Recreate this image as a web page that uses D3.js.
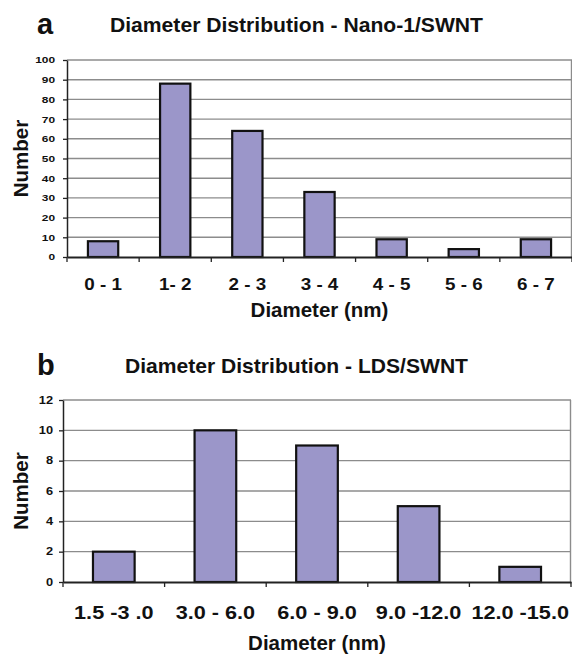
<!DOCTYPE html>
<html>
<head>
<meta charset="utf-8">
<script src="https://cdn.jsdelivr.net/npm/d3@7"></script>
<style>
  body { margin: 0; background: #fff; }
  text { font-family: "Liberation Sans", Arial, sans-serif; font-weight: bold; fill: #111; }
</style>
</head>
<body>
<script>
// dati
const catsA = ['0 - 1', '1- 2', '2 - 3', '3 - 4', '4 - 5', '5 - 6', '6 - 7'];
const valsA = [8, 88, 64, 33, 9, 4, 9];
const ticksA = [0, 10, 20, 30, 40, 50, 60, 70, 80, 90, 100];

const catsB = ['1.5 -3 .0', '3.0 - 6.0', '6.0 - 9.0', '9.0 -12.0', '12.0 -15.0'];
const valsB = [2, 10, 9, 5, 1];
const ticksB = [0, 2, 4, 6, 8, 10, 12];

const W = 572, H = 654;
const barColor = '#9b96c9';
const gridColor = '#8c8c8c';

const svg = d3.select('body')
    .append('svg')
    .attr('width', W)
    .attr('height', H);

// allarga il testo come nell'originale
function stretch(sel, k) {
    sel.each(function() {
        const w = this.getComputedTextLength();
        d3.select(this).attr('textLength', w * k).attr('lengthAdjust', 'spacingAndGlyphs');
    });
}

function drawChart(o) {
    const g = svg.append('g');

    const x = d3.scaleBand()
        .domain(o.cats)
        .range([o.left, o.right]);

    const y = d3.scaleLinear()
        .domain([0, d3.max(o.ticks)])
        .range([o.bottom, o.top]);

    // griglia
    g.selectAll('.grid')
        .data(o.ticks.filter(t => t > 0))
        .enter().append('line')
        .attr('x1', o.left).attr('x2', o.right)
        .attr('y1', d => y(d)).attr('y2', d => y(d))
        .attr('stroke', gridColor)
        .attr('stroke-width', 1.4);

    g.append('line')
        .attr('x1', o.right - 0.5).attr('x2', o.right - 0.5)
        .attr('y1', o.top).attr('y2', o.bottom)
        .attr('stroke', gridColor)
        .attr('stroke-width', 1.4);

    // barre
    const bw = x.bandwidth() * o.barFrac;
    g.selectAll('.bar')
        .data(o.vals)
        .enter().append('rect')
        .attr('x', (d, i) => x(o.cats[i]) + (x.bandwidth() - bw) / 2)
        .attr('y', d => y(d))
        .attr('width', bw)
        .attr('height', d => y(0) - y(d))
        .attr('fill', barColor)
        .attr('stroke', '#111')
        .attr('stroke-width', 2.2);

    // asse y
    const yAxis = g.append('g')
        .attr('transform', 'translate(' + o.left + ',0)')
        .call(d3.axisLeft(y).tickValues(o.ticks).tickSize(4).tickSizeOuter(0).tickPadding(o.yPad));
    yAxis.select('.domain').attr('stroke', '#222').attr('stroke-width', 1.5);
    yAxis.selectAll('.tick line').attr('stroke', '#222').attr('stroke-width', 1.3);
    yAxis.selectAll('text')
        .attr('font-size', o.yFont)
        .attr('fill', '#111')
        .call(stretch, 1.28);

    // asse x
    const xAxis = g.append('g')
        .attr('transform', 'translate(0,' + o.bottom + ')')
        .call(d3.axisBottom(x).tickSize(0).tickSizeOuter(0).tickPadding(o.xPad));
    xAxis.select('.domain').attr('stroke', '#222').attr('stroke-width', 1.8);
    xAxis.selectAll('text')
        .attr('font-size', o.xFont)
        .attr('fill', '#111')
        .call(stretch, 1.14);

    // tacche ai bordi delle categorie
    const edges = o.cats.map(c => x(c)).concat([o.right]);
    g.selectAll('.edge')
        .data(edges)
        .enter().append('line')
        .attr('x1', d => d).attr('x2', d => d)
        .attr('y1', o.bottom).attr('y2', o.bottom + 5)
        .attr('stroke', '#222')
        .attr('stroke-width', 1.3);

    // titoli
    g.append('text')
        .attr('x', 37).attr('y', o.letterY)
        .attr('font-size', 29)
        .text(o.letter);

    g.append('text')
        .attr('x', 296.5).attr('y', o.titleY)
        .attr('text-anchor', 'middle')
        .attr('font-size', 21)
        .attr('textLength', o.titleW)
        .attr('lengthAdjust', 'spacingAndGlyphs')
        .text(o.title);

    g.append('text')
        .attr('x', (o.left + o.right) / 2).attr('y', o.xTitleY)
        .attr('text-anchor', 'middle')
        .attr('font-size', 20.5)
        .text('Diameter (nm)');

    g.append('text')
        .attr('transform', 'translate(28,' + ((o.top + o.bottom) / 2) + ') rotate(-90)')
        .attr('text-anchor', 'middle')
        .attr('font-size', 20.5)
        .text('Number');
}

drawChart({
    cats: catsA, vals: valsA, ticks: ticksA,
    left: 67, right: 572, top: 60, bottom: 257,
    barFrac: 0.42, yPad: 8, yFont: 9.3, xFont: 16.5, xPad: 21,
    letter: 'a', letterY: 34, title: 'Diameter Distribution - Nano-1/SWNT', titleY: 32, titleW: 373,
    xTitleY: 317
});

drawChart({
    cats: catsB, vals: valsB, ticks: ticksB,
    left: 63, right: 571, top: 400, bottom: 582,
    barFrac: 0.41, yPad: 6, yFont: 10, xFont: 19, xPad: 24,
    letter: 'b', letterY: 375, title: 'Diameter Distribution - LDS/SWNT', titleY: 373, titleW: 343,
    xTitleY: 650
});
</script>
</body>
</html>
